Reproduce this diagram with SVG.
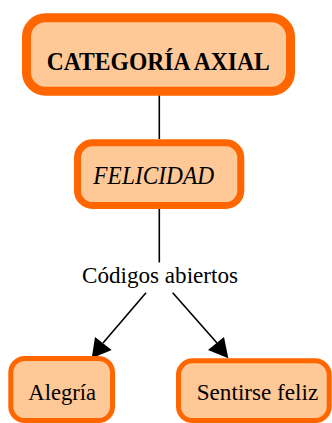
<svg xmlns="http://www.w3.org/2000/svg" width="332" height="423" viewBox="0 0 332 423">
<style>
.box{fill:#FFC897;stroke:#FF6600}
.ln{stroke:#000;stroke-width:1.6;fill:none}
</style>
<g id="connectors">
<line class="ln" x1="159.3" y1="95" x2="159.3" y2="139"/>
<line class="ln" x1="159.3" y1="209" x2="159.3" y2="262.5"/>
<line class="ln" x1="146" y1="292.7" x2="103" y2="343"/>
<path d="M91.7,358.3 L95,337 L111.7,350 Z" fill="#000"/>
<line class="ln" x1="172.7" y1="292.7" x2="217" y2="343"/>
<path d="M228.3,358.3 L208,350 L224,337 Z" fill="#000"/>
</g>
<g font-family="Liberation Serif, Times New Roman, serif" font-size="23" fill="#000" text-anchor="middle">
<g id="node-categoria">
<rect class="box" x="26.5" y="17.8" width="264" height="73.4" rx="19" stroke-width="9"/>
<text x="158.3" y="69.5" font-weight="bold" font-size="25" textLength="223" lengthAdjust="spacingAndGlyphs">CATEGORÍA AXIAL</text>
</g>
<g id="node-felicidad">
<rect class="box" x="77.5" y="142.8" width="163.3" height="62.7" rx="15" stroke-width="7"/>
<text x="153.7" y="184" font-style="italic" font-size="25" textLength="120.7" lengthAdjust="spacingAndGlyphs">FELICIDAD</text>
</g>
<g id="label-codigos">
<text x="160" y="282.5" textLength="156" lengthAdjust="spacingAndGlyphs">Códigos abiertos</text>
</g>
<g id="node-alegria">
<rect class="box" x="10.8" y="358.5" width="101.7" height="62" rx="14" stroke-width="5"/>
<text x="62.2" y="400" textLength="67.7" lengthAdjust="spacingAndGlyphs">Alegría</text>
</g>
<g id="node-sentirse">
<rect class="box" x="178.5" y="360.8" width="150.7" height="59.7" rx="14" stroke-width="5"/>
<text x="257.5" y="400" textLength="121.6" lengthAdjust="spacingAndGlyphs">Sentirse feliz</text>
</g>
</g>
</svg>
